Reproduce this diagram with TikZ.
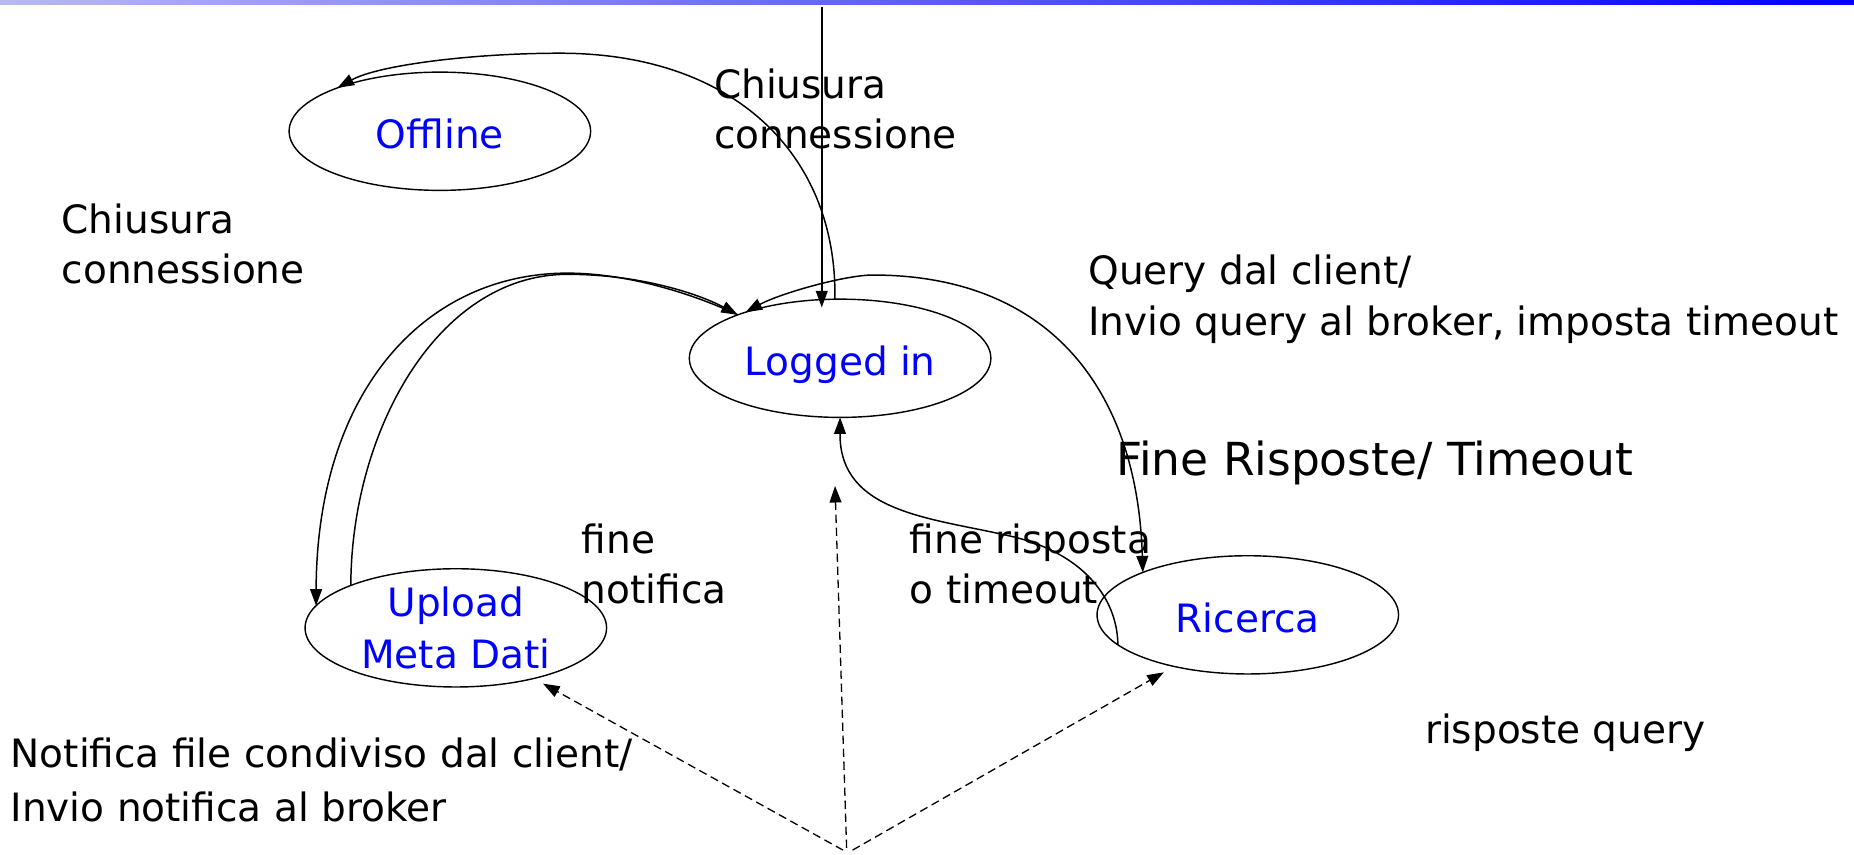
\documentclass[tikz,border=0pt]{standalone}
\usepackage{fontspec}
\setmainfont{DejaVu Sans}
\usetikzlibrary{arrows.meta,shapes.geometric}
\newcommand{\twolines}[2]{\vtop{\hbox{#1}\hbox{#2}}}
\definecolor{stblue}{RGB}{0,0,255}
\definecolor{barlight}{RGB}{185,185,240}
\begin{document}
\begin{tikzpicture}[x=1pt,y=-1pt,
  every node/.style={inner sep=0pt, outer sep=0pt},
  txt/.style={anchor=base west, font=\fontsize{33}{42.5}\selectfont, text=black},
  state/.style={ellipse, draw, line width=1.2pt, minimum width=255pt, minimum height=100pt,
    text=stblue, font=\fontsize{33}{43.5}\selectfont, align=center},
  single/.style={text height=33pt, text depth=4pt},
  conn/.style={line width=1.25pt, draw=black},
  tip/.style={-{Triangle[length=14pt,width=10pt]}},
  bothtips/.style={{Triangle[length=14pt,width=10pt]}-{Triangle[length=14pt,width=10pt]}},
  dconn/.style={line width=1.1pt, draw=black, dash pattern=on 7pt off 4pt}]

\fill[white] (0,0) rectangle (1568,723);
\useasboundingbox (0,0) rectangle (1568,723);
\shade[left color=barlight, right color=stblue] (0,0) rectangle (1568,3.4);

% states
\node[state,single] (OFF) at (372,111) {Offline};
\node[state,single] (LOG) at (710.5,303) {Logged in};
\node[state] (UPL) at (385.5,531) {Upload\\Meta Dati};
\node[state,single] (RIC) at (1055.3,520) {Ricerca};

% entry arrow
\coordinate (entry) at (695,6);
\draw[conn,tip] (entry) -- ([yshift=-7pt]entry |- LOG.north);

% Logged in -> Offline
\draw[conn,tip] (LOG.95) .. controls (708,130) and (620,45) .. (473.6,45)
  .. controls (400,45) and (320,55) .. (OFF.157);

% Logged in -> Upload (outer)
\draw[conn,tip] (LOG.157) .. controls (585,248) and (530,231) .. (480,231)
  .. controls (360,231) and (268,330) .. (UPL.171);
% Upload -> Logged in (inner)
\draw[conn,tip] (UPL.158) .. controls (297,365) and (370,232) .. (480,232)
  .. controls (540,232) and (590,248) .. (LOG.157);

% Logged in <-> Ricerca
\draw[conn,bothtips] (LOG.154) .. controls (660,248) and (715,232.6) .. (738,232.6)
  .. controls (888,232.6) and (962,330) .. (RIC.158);

% Ricerca -> Logged in
\draw[conn,tip] (RIC.193) .. controls (945,505) and (915,468) .. (857,454)
  .. controls (790,438) and (710,435) .. (LOG.270);

% dashed arrows
\coordinate (srcL) at (713,719);
\coordinate (srcM) at (716,717);
\coordinate (srcR) at (721,719);
\draw[dconn,tip,shorten >=9pt] (srcL) -- (UPL.327);
\draw[dconn,tip] (srcM) -- ([xshift=-4.3pt,yshift=-58pt]LOG.south);
\draw[dconn,tip,shorten >=10pt] (srcR) -- (RIC.215);

% labels
\node[txt] (t1) at (603.9,83.2) {\twolines{Chiusura}{connessione}};
\node[txt] (t2) at (52.2,197.3) {\twolines{Chiusura}{connessione}};
\node[txt,font=\fontsize{33}{42.5}\selectfont] (t3) at (920.4,241) {\twolines{Query dal client/}{Invio query al broker, imposta timeout}};
\node[txt,font=\fontsize{38.5}{42}\selectfont] (t4) at (944,402) {Fine Risposte/ Timeout};
\node[txt] (t5) at (492,468) {\twolines{fine}{notifica}};
\node[txt] (t6) at (769.6,468) {\twolines{fine risposta}{o timeout}};
\node[txt,font=\fontsize{33}{45.5}\selectfont] (t7) at (9,649) {\twolines{Notifica file condiviso dal client/}{Invio notifica al broker}};
\node[txt] (t8) at (1205.2,629) {risposte query};
\end{tikzpicture}
\end{document}
